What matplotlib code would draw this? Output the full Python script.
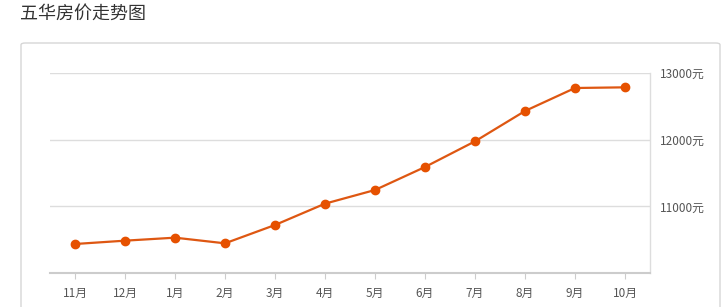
import matplotlib
matplotlib.use("Agg")
import matplotlib.pyplot as plt
from matplotlib.patches import FancyBboxPatch

plt.rcParams['font.family'] = ['Noto Sans CJK SC', 'DejaVu Sans']

title = "五华房价走势图"
months = ["11月", "12月", "1月", "2月", "3月", "4月", "5月", "6月", "7月", "8月", "9月", "10月"]
prices = [10435, 10485, 10530, 10445, 10720, 11040, 11245, 11590, 11975, 12430, 12775, 12785]
yticks = [11000, 12000, 13000]
ytick_labels = ["11000元", "12000元", "13000元"]

W, H = 724, 307
fig = plt.figure(figsize=(W / 100, H / 100), dpi=100)
fig.patch.set_facecolor("white")

# card border
card = FancyBboxPatch((21 / W, -0.2), (720 - 21) / W, (H - 43) / H + 0.2,
                      boxstyle="round,pad=0,rounding_size=0.006",
                      transform=fig.transFigure, facecolor="white",
                      edgecolor="#d6d6d6", linewidth=1.0, zorder=-10)
fig.patches.append(card)

fig.text(20 / W, 1 - 14 / H, title, fontsize=13, color="#333333",
         ha="left", va="center")

ax = fig.add_axes([50 / W, 34 / H, 600 / W, 200 / H])
ax.set_zorder(5)
ax.patch.set_alpha(0)
x = list(range(len(months)))
ax.plot(x, prices, color="#de5712", linewidth=1.6, marker="o",
        markersize=6, markerfacecolor="#e65100", markeredgecolor="#e65100",
        zorder=3)

ax.set_xlim(-0.5, len(months) - 0.5)
ax.set_ylim(10000, 13000)
ax.set_xticks(x)
ax.set_xticklabels(months, fontsize=8.5, color="#555555")
ax.set_yticks(yticks)
ax.set_yticklabels(ytick_labels, fontsize=8.5, color="#555555")
ax.yaxis.tick_right()
ax.tick_params(axis="y", length=0, pad=7)
ax.tick_params(axis="x", length=4, color="#cccccc", pad=6)

ax.grid(axis="y", color="#dddddd", linewidth=1.0)
ax.set_axisbelow(True)
for s in ["left", "top"]:
    ax.spines[s].set_visible(False)
ax.spines["right"].set_color("#dddddd")
ax.spines["right"].set_linewidth(1.0)
ax.spines["bottom"].set_color("#cccccc")
ax.spines["bottom"].set_linewidth(1.5)

fig.savefig("out.png", dpi=100, facecolor="white")
